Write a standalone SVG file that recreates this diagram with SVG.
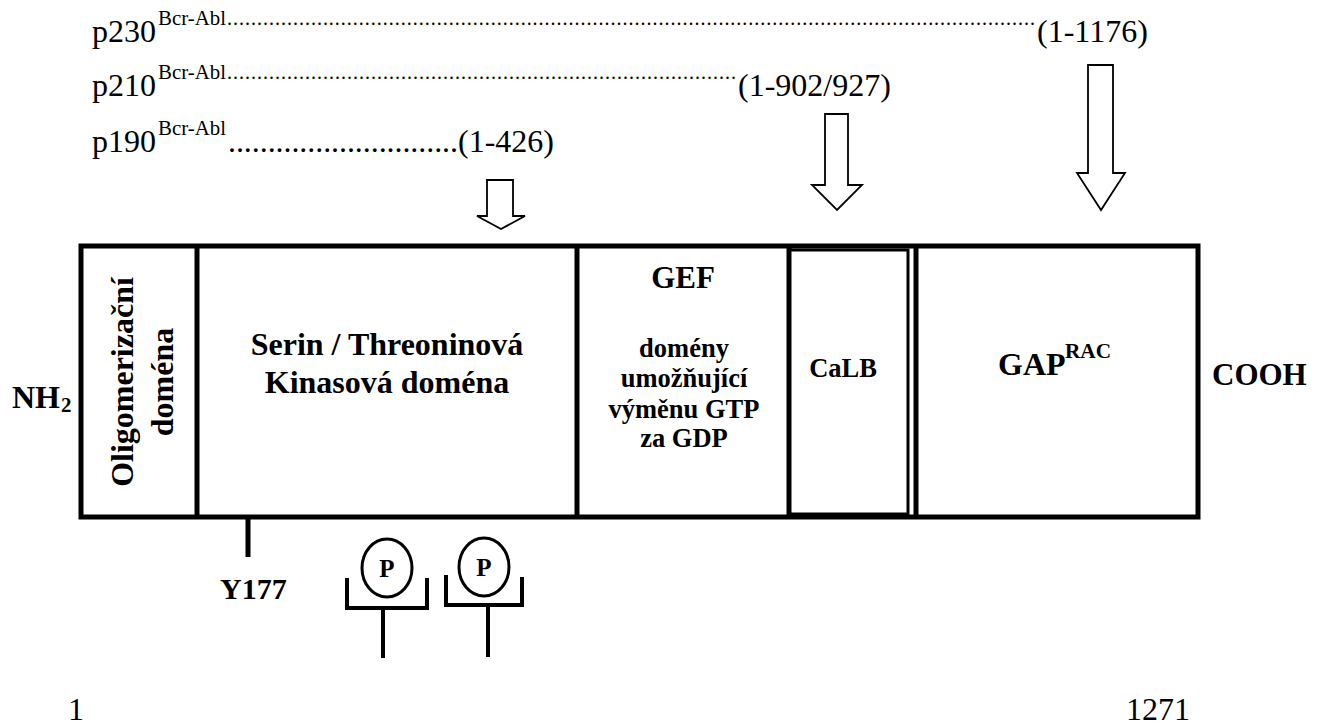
<svg xmlns="http://www.w3.org/2000/svg" width="1321" height="725" viewBox="0 0 1321 725">
<style>
.t{font-family:"Liberation Serif","Times New Roman",serif;fill:#000}
.b{font-weight:bold}
.box{fill:#fff;stroke:#000;stroke-width:5}
.div{stroke:#000;stroke-width:5;fill:none}
.arr{fill:#fff;stroke:#000;stroke-width:1.8;stroke-linejoin:miter}
.ln{stroke:#000;stroke-width:4;fill:none}
</style>
<rect width="1321" height="725" fill="#fff"/>

<g id="row-p230">
<text class="t" x="92" y="42" font-size="32">p230</text>
<text class="t" x="158" y="25" font-size="20" textLength="68" lengthAdjust="spacingAndGlyphs">Bcr-Abl</text>
<text class="t" x="227" y="25" font-size="20" textLength="808" lengthAdjust="spacing">.......................................................................................................................................</text>
<text class="t" x="1037" y="42" font-size="32">(1-1176)</text>
</g>
<g id="row-p210">
<text class="t" x="92" y="96" font-size="32">p210</text>
<text class="t" x="158" y="79" font-size="20" textLength="68" lengthAdjust="spacingAndGlyphs">Bcr-Abl</text>
<text class="t" x="227" y="79" font-size="20" textLength="509" lengthAdjust="spacing">.....................................................................................</text>
<text class="t" x="738" y="96" font-size="32">(1-902/927)</text>
</g>
<g id="row-p190">
<text class="t" x="92" y="152" font-size="32">p190</text>
<text class="t" x="158" y="135" font-size="20" textLength="68" lengthAdjust="spacingAndGlyphs">Bcr-Abl</text>
<text class="t" x="228" y="152" font-size="32" textLength="230" lengthAdjust="spacing">.............................</text>
<text class="t" x="458" y="152" font-size="32">(1-426)</text>
</g>

<g id="connectors">
<polygon class="arr" points="487,180 513,180 513,216 525,216 501,229 477,216 487,216"/>
<polygon class="arr" points="825,114 848,114 848,185 862,185 837,210 812,185 825,185"/>
<polygon class="arr" points="1088,65 1113,65 1113,173 1125,173 1101,210 1077,173 1088,173"/>
</g>

<g id="protein">
<rect class="box" x="81" y="246" width="1117" height="271"/>
</g>
<g id="oligo">
<line class="div" x1="197" y1="246" x2="197" y2="517"/>
<text class="t b" font-size="32" text-anchor="middle" transform="translate(133,382) rotate(-90)">Oligomerizační</text>
<text class="t b" font-size="32" text-anchor="middle" transform="translate(173,382) rotate(-90)">doména</text>
</g>
<g id="kinase">
<line class="div" x1="577" y1="246" x2="577" y2="517"/>
<text class="t b" font-size="32" text-anchor="middle" x="387" y="355">Serin / Threoninová</text>
<text class="t b" font-size="32" text-anchor="middle" x="387" y="393">Kinasová doména</text>
</g>
<g id="gef">
<line class="div" x1="789" y1="246" x2="789" y2="517"/>
<text class="t b" font-size="31" text-anchor="middle" x="683" y="288">GEF</text>
<text class="t b" font-size="26.5" text-anchor="middle" x="684" y="357">domény</text>
<text class="t b" font-size="26.5" text-anchor="middle" x="684" y="387">umožňující</text>
<text class="t b" font-size="26.5" text-anchor="middle" x="684" y="418">výměnu GTP</text>
<text class="t b" font-size="26.5" text-anchor="middle" x="684" y="447">za GDP</text>
</g>
<g id="calb">
<rect x="789" y="250" width="119" height="264" fill="none" stroke="#000" stroke-width="3"/>
<line class="div" x1="916" y1="246" x2="916" y2="517"/>
<text class="t b" font-size="26.5" text-anchor="middle" x="843" y="377">CaLB</text>
</g>
<g id="gap">
<text class="t b" font-size="32" x="998" y="375">GAP</text>
<text class="t b" font-size="20" x="1065" y="358" textLength="46" lengthAdjust="spacingAndGlyphs">RAC</text>
</g>
<g id="nh2">
<text class="t b" font-size="32" x="12" y="408">NH</text>
<text class="t b" font-size="21" x="61" y="412">2</text>
</g>
<g id="cooh">
<text class="t b" font-size="31" x="1212" y="385">COOH</text>
</g>

<g id="y177">
<line class="div" x1="248" y1="517" x2="248" y2="557"/>
<text class="t b" font-size="30" x="220" y="599">Y177</text>
</g>
<g id="phospho1">
<ellipse cx="387" cy="568" rx="25" ry="29" fill="none" stroke="#000" stroke-width="3"/>
<text class="t b" font-size="25" text-anchor="middle" x="387" y="577">P</text>
<path class="ln" d="M347,578 V608 H427 V578"/>
<line class="ln" x1="383" y1="608" x2="383" y2="658"/>
</g>
<g id="phospho2">
<ellipse cx="484" cy="567" rx="25" ry="29" fill="none" stroke="#000" stroke-width="3"/>
<text class="t b" font-size="25" text-anchor="middle" x="484" y="576">P</text>
<path class="ln" d="M446,575 V605 H522 V577"/>
<line class="ln" x1="488" y1="605" x2="488" y2="657"/>
</g>

<g id="scale">
<text class="t" font-size="32" x="68" y="720">1</text>
<text class="t" font-size="32" x="1126" y="720">1271</text>
</g>
</svg>
